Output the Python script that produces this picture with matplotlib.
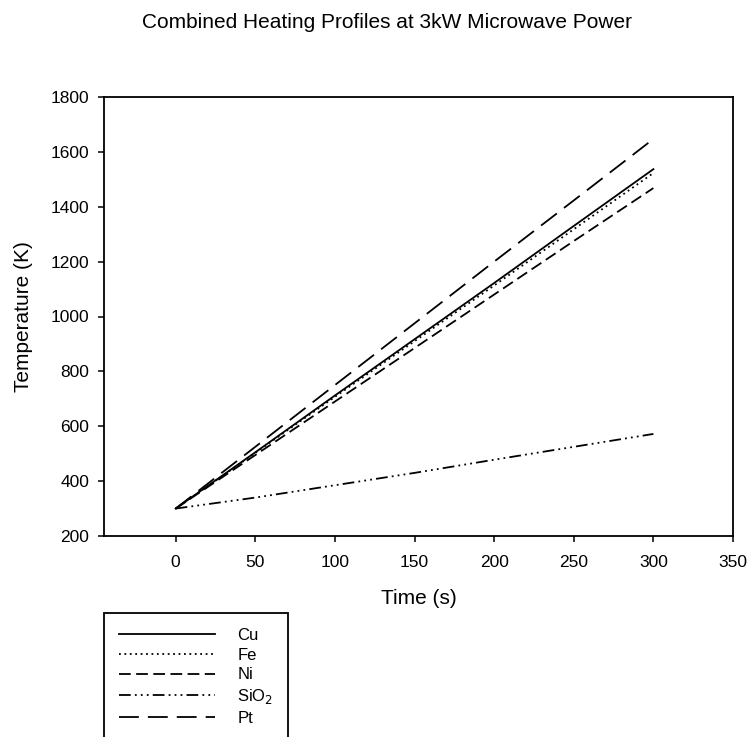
import matplotlib
matplotlib.use("Agg")
import matplotlib.pyplot as plt
from matplotlib.lines import Line2D

plt.rcParams['font.family'] = ['Liberation Sans', 'DejaVu Sans']

# --- DATA ---
time_s = [0, 50, 100, 150, 200, 250, 300]
temp_cu = [300, 505, 712, 917, 1122, 1330, 1537]
temp_fe = [300, 503, 707, 910, 1113, 1318, 1523]
temp_ni = [300, 495, 690, 885, 1080, 1275, 1468]
temp_sio2 = [300, 340, 385, 430, 478, 525, 572]
temp_pt = [300, 525, 750, 975, 1200, 1423, 1647]

x_ticks = [0, 50, 100, 150, 200, 250, 300, 350]
y_ticks = [200, 400, 600, 800, 1000, 1200, 1400, 1600, 1800]

W, H = 752, 737
fig = plt.figure(figsize=(W / 100, H / 100), dpi=100)
ax = fig.add_axes([104 / W, 1 - 536 / H, (733 - 104) / W, (536 - 97) / H])

lw = 1.3
ax.plot(time_s, temp_cu, color='black', lw=lw, linestyle='-', label='Cu')
ax.plot(time_s, temp_fe, color='black', lw=lw, linestyle=(0, (1, 2)), label='Fe')
ax.plot(time_s, temp_ni, color='black', lw=lw, linestyle=(0, (6.5, 3)), label='Ni')
ax.plot(time_s, temp_sio2, color='black', lw=lw,
        linestyle=(0, (6.5, 2.3, 1, 2.3, 1, 2.3, 1, 2.3)), label='SiO$_2$')
ax.plot(time_s, temp_pt, color='black', lw=lw, linestyle=(0, (11, 5)), label='Pt')

ax.set_xlim(-45, 350)
ax.set_ylim(200, 1800)
ax.set_xticks(x_ticks)
ax.set_yticks(y_ticks)
ax.tick_params(direction='out', length=4.5, width=1.1, labelsize=12.5)
ax.tick_params(axis='x', pad=9)
ax.tick_params(axis='y', pad=6)
for s in ax.spines.values():
    s.set_linewidth(1.3)

ax.set_xlabel('Time (s)', fontsize=15, labelpad=14)
ax.set_ylabel('Temperature (K)', fontsize=15, labelpad=13)

fig.text(0.515, 1 - 22 / H, 'Combined Heating Profiles at 3kW Microwave Power',
         ha='center', va='center', fontsize=15)

handles, labels = ax.get_legend_handles_labels()
handles.append(Line2D([], [], color='none'))
labels.append(' ')
leg = fig.legend(handles, labels, loc='upper left',
                 bbox_to_anchor=(104 / W, 1 - 613 / H), borderaxespad=0,
                 fontsize=12, handlelength=5.75, handletextpad=1.35,
                 labelspacing=0.28, borderpad=0.9, fancybox=False,
                 edgecolor='black', framealpha=1)
leg.get_frame().set_linewidth(1.3)

fig.savefig('out.png', dpi=100)
